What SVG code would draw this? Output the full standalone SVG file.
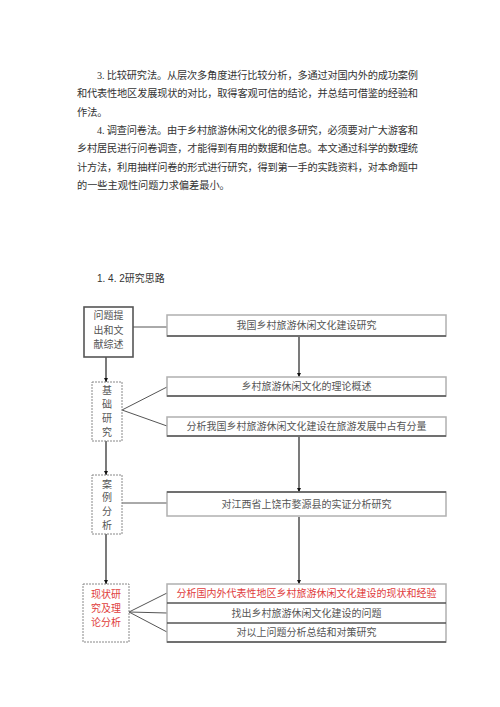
<svg xmlns="http://www.w3.org/2000/svg" width="500" height="707" viewBox="0 0 500 707">
<defs>
<style>
.body{font-family:"Liberation Serif","Noto Sans CJK SC",serif;font-size:10.2px;fill:#333}
.t{font-family:"Liberation Serif","Noto Sans CJK SC",serif;font-size:10px;fill:#555;text-anchor:middle}
.red{fill:#e03c3c}
.box{fill:#fff;stroke:#b0b0b0;stroke-width:1.5}
.edge{stroke:#555;stroke-width:1.5;fill:none}
.dash{fill:#fff;stroke:#888;stroke-width:1;stroke-dasharray:2 1}
.con{stroke:#555;stroke-width:1;fill:none}
.arr{stroke:#222;stroke-width:1.2;fill:none;marker-end:url(#ah)}
</style>
<marker id="ah" viewBox="0 0 10 10" refX="10" refY="5" markerWidth="4.5" markerHeight="4.5" orient="auto" markerUnits="userSpaceOnUse">
<path d="M0,0 L10,5 L0,10 z" fill="#111"/>
</marker>
</defs>
<rect width="500" height="707" fill="#fff"/>
<g id="paragraphs">
<text class="body" x="97" y="79" textLength="321" lengthAdjust="spacing">3. 比较研究法。从层次多角度进行比较分析，多通过对国内外的成功案例</text>
<text class="body" x="77" y="97" textLength="341" lengthAdjust="spacing">和代表性地区发展现状的对比，取得客观可信的结论，并总结可借鉴的经验和</text>
<text class="body" x="77" y="116">作法。</text>
<text class="body" x="97" y="134" textLength="321" lengthAdjust="spacing">4. 调查问卷法。由于乡村旅游休闲文化的很多研究，必须要对广大游客和</text>
<text class="body" x="77" y="152" textLength="341" lengthAdjust="spacing">乡村居民进行问卷调查，才能得到有用的数据和信息。本文通过科学的数理统</text>
<text class="body" x="77" y="171" textLength="341" lengthAdjust="spacing">计方法，利用抽样问卷的形式进行研究，得到第一手的实践资料，对本命题中</text>
<text class="body" x="77" y="189">的一些主观性问题力求偏差最小。</text>
</g>
<text id="heading" x="97" y="282" font-family="'Liberation Sans','Noto Sans CJK SC',sans-serif" font-size="10" fill="#333">1. 4. 2研究思路</text>
<g id="connectors">
<line class="con" x1="133" y1="327" x2="167" y2="327"/>
<line class="con" x1="122" y1="410" x2="167" y2="387"/>
<line class="con" x1="122" y1="410" x2="167" y2="426"/>
<line class="con" x1="122" y1="503" x2="167" y2="503"/>
<line class="con" x1="129" y1="612" x2="167" y2="593"/>
<line class="con" x1="129" y1="612" x2="167" y2="613"/>
<line class="con" x1="129" y1="612" x2="167" y2="632"/>
<line class="arr" x1="106" y1="357" x2="106" y2="382"/>
<line class="arr" x1="106" y1="441" x2="106" y2="475"/>
<line class="arr" x1="106" y1="534" x2="106" y2="584"/>
<line class="arr" x1="299" y1="337" x2="299" y2="377"/>
<line class="arr" x1="299" y1="437" x2="299" y2="492"/>
<line class="arr" x1="299" y1="517" x2="299" y2="584"/>
</g>
<g id="n1">
<rect x="84" y="307" width="49" height="50" fill="#fff" stroke="#555" stroke-width="1.6"/>
<text class="t" x="108.5" y="319">问题提</text>
<text class="t" x="108.5" y="334">出和文</text>
<text class="t" x="108.5" y="348">献综述</text>
</g>
<g id="n2">
<rect class="dash" x="92" y="382" width="30" height="59"/>
<text class="t" x="107" y="394">基</text>
<text class="t" x="107" y="408">础</text>
<text class="t" x="107" y="422">研</text>
<text class="t" x="107" y="436">究</text>
</g>
<g id="n3">
<rect class="dash" x="92" y="475" width="30" height="59"/>
<text class="t" x="107" y="488">案</text>
<text class="t" x="107" y="501">例</text>
<text class="t" x="107" y="515">分</text>
<text class="t" x="107" y="529">析</text>
</g>
<g id="n4">
<rect class="dash" x="83" y="584" width="46" height="58"/>
<text class="t red" x="106" y="598">现状研</text>
<text class="t red" x="106" y="612">究及理</text>
<text class="t red" x="106" y="626">论分析</text>
</g>
<g id="nA">
<rect class="box" x="167" y="315" width="279" height="21"/>
<line class="edge" x1="167" y1="336" x2="446" y2="336"/>
<text class="t" x="306.5" y="329">我国乡村旅游休闲文化建设研究</text>
</g>
<g id="nB">
<rect class="box" x="167" y="377" width="279" height="19"/>
<line class="edge" x1="167" y1="396" x2="446" y2="396"/>
<text class="t" x="306.5" y="390">乡村旅游休闲文化的理论概述</text>
</g>
<g id="nC">
<rect class="box" x="167" y="417" width="279" height="19"/>
<line class="edge" x1="167" y1="436" x2="446" y2="436"/>
<text class="t" x="306.5" y="430">分析我国乡村旅游休闲文化建设在旅游发展中占有分量</text>
</g>
<g id="nD">
<rect class="box" x="167" y="492" width="279" height="24"/>
<line class="edge" x1="167" y1="492" x2="446" y2="492"/>
<text class="t" x="306.5" y="508">对江西省上饶市婺源县的实证分析研究</text>
</g>
<g id="nE">
<rect class="box" x="167" y="584" width="279" height="58"/>
<line class="edge" x1="167" y1="603" x2="446" y2="603"/>
<line class="edge" x1="167" y1="623" x2="446" y2="623"/>
<line class="edge" x1="167" y1="642" x2="446" y2="642"/>
<text class="t red" x="306.5" y="597">分析国内外代表性地区乡村旅游休闲文化建设的现状和经验</text>
<text class="t" x="306.5" y="617">找出乡村旅游休闲文化建设的问题</text>
<text class="t" x="306.5" y="636">对以上问题分析总结和对策研究</text>
</g>
</svg>
